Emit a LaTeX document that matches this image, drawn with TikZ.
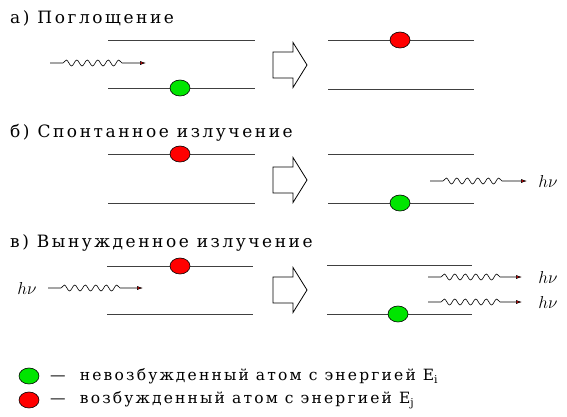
\documentclass[tikz,border=0pt]{standalone}
\usepackage{fontspec}
\setmainfont[LetterSpace=15]{DejaVu Serif}
\newfontfamily\legendfont[LetterSpace=14]{DejaVu Serif}
\usetikzlibrary{arrows.meta,decorations.pathmorphing,shapes.geometric}
\tikzset{
  level/.style={line width=0.9pt, black!75},
  atom/.style={ellipse, draw=black, line width=0.6pt, minimum width=20pt, minimum height=16pt, inner sep=0pt},
  ground/.style={atom, fill=green!90!black},
  excited/.style={atom, fill=red},
  photon/.style={decorate, decoration={snake, amplitude=3pt, segment length=10.5pt, pre length=13pt, post length=20pt},
    -{Latex[length=6pt,width=4pt,fill=red]}, line width=0.6pt},
  title/.style={anchor=west, inner sep=0pt, font=\fontsize{17}{20}\selectfont},
  hnu/.style={inner sep=0pt, font=\fontsize{18}{21}\selectfont},
  legend/.style={anchor=west, inner sep=0pt, font=\legendfont\fontsize{15.5}{18}\selectfont}
}
\newcommand{\blockarrow}[1]{%
  \draw[line width=0.8pt] (273,#1-13) -- (293,#1-13) -- (293,#1-22.5) -- (307,#1)
    -- (293,#1+22.5) -- (293,#1+13) -- (273,#1+13) -- cycle;}
\begin{document}
\begin{tikzpicture}[x=1pt,y=-1pt]
\useasboundingbox (0,0) rectangle (567,416);

% a) absorption
\node[title] (ta) at (10,18) {а) Поглощение};
\draw[level] (108,40) -- (255,40);
\draw[level] (108,88) -- (255,88);
\node[ground] (ga) at (180,88) {};
\coordinate (pa1) at (50,63);
\coordinate (pa2) at (146,63);
\draw[photon] (pa1) -- (pa2);
\blockarrow{65}
\draw[level] (328,40) -- (474,40);
\draw[level] (328,89) -- (474,89);
\node[excited] (ea) at (400,40) {};

% b) spontaneous emission
\node[title] (tb) at (10,133) {б) Спонтанное излучение};
\draw[level] (108,154) -- (255,154);
\draw[level] (108,203) -- (255,203);
\node[excited] (eb) at (180,154) {};
\blockarrow{180}
\draw[level] (328,154) -- (474,154);
\draw[level] (328,203) -- (474,203);
\node[ground] (gb) at (400,203) {};
\node[hnu] (hb) at (548,181) {$h\nu$};
\coordinate (pb1) at (430,181);
\coordinate (pb2) at (527,181);
\draw[photon] (pb1) -- (pb2);

% c) stimulated emission
\node[title] (tc) at (10,243) {в) Вынужденное излучение};
\draw[level] (107,266) -- (253,266);
\draw[level] (107,314) -- (253,314);
\node[excited] (ec) at (180,266) {};
\node[hnu] (hc) at (27,288) {$h\nu$};
\coordinate (pc1) at (48,288);
\coordinate (pc2) at (143,288);
\draw[photon] (pc1) -- (pc2);
\blockarrow{290}
\draw[level] (327,265) -- (472,265);
\draw[level] (327,314) -- (472,314);
\node[ground] (gc) at (398,314) {};
\node[hnu] (hc1) at (548,277) {$h\nu$};
\node[hnu] (hc2) at (548,302) {$h\nu$};
\coordinate (pc3) at (428,277);
\coordinate (pc4) at (428,302);
\coordinate (pc5) at (522,277);
\coordinate (pc6) at (522,302);
\draw[photon] (pc3) -- (pc5);
\draw[photon] (pc4) -- (pc6);

% legend
\node[ground] (lg) at (29,376) {};
\node[excited] (le) at (29,400) {};
\node[legend] (tg) at (50,376) {—\ \ невозбужденный атом с энергией E\textsubscript{i}};
\node[legend] (te) at (50,400) {—\ \ возбужденный атом с энергией E\textsubscript{j}};
\end{tikzpicture}
\end{document}
